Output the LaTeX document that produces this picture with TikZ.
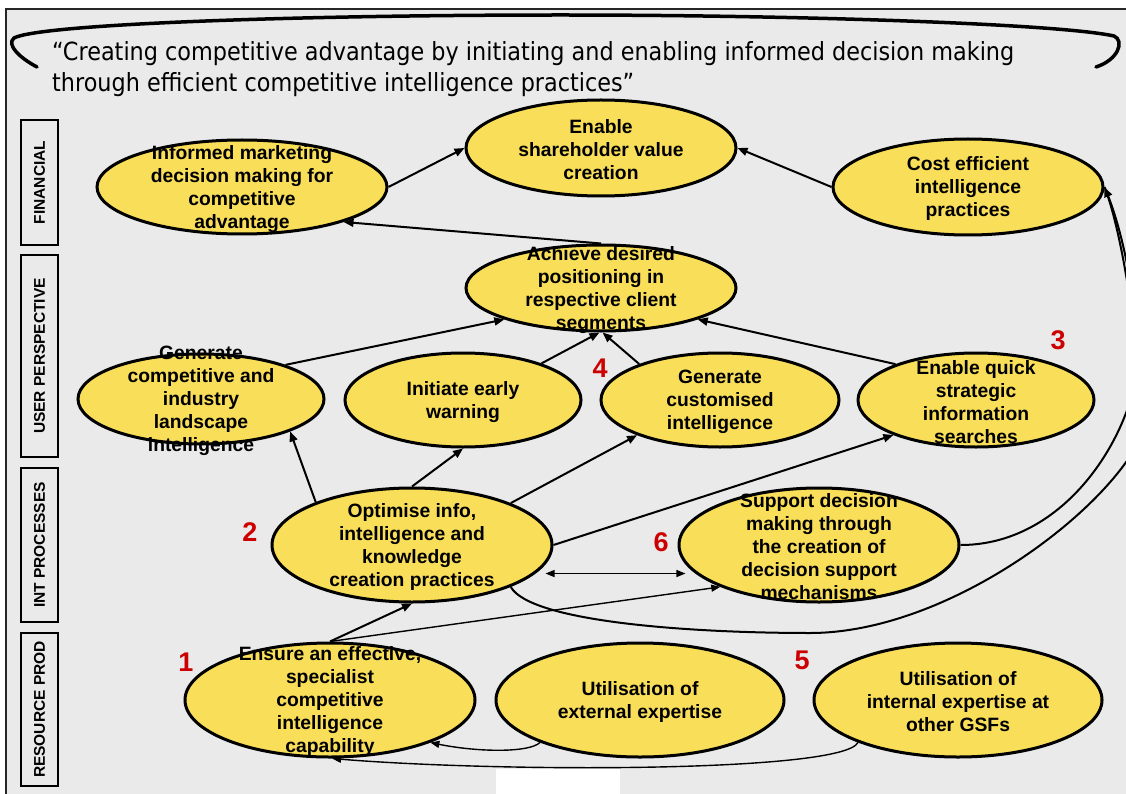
\documentclass[tikz,border=0pt]{standalone}
\usepackage{graphicx}
\usepackage{fontspec}
\setmainfont{Liberation Sans}
\newfontfamily\quotefont{DejaVu Sans}
\usetikzlibrary{arrows.meta,shapes.geometric}
\definecolor{panelgray}{RGB}{234,234,234}
\definecolor{ovalyellow}{RGB}{249,222,89}
\definecolor{numred}{RGB}{204,0,0}
\begin{document}
\begin{tikzpicture}[x=1pt,y=-1pt,
  oval/.style={ellipse,draw,line width=3pt,fill=ovalyellow,inner sep=0pt},
  ovaltext/.style={align=center,inner sep=0pt,yshift=-2pt,font=\bfseries\fontsize{19.3}{23}\selectfont},
  sidebox/.style={draw,line width=2pt,rotate=90,minimum height=37pt,inner sep=0pt,font=\bfseries\fontsize{15.5}{18}\selectfont},
  num/.style={text=numred,inner sep=0pt,font=\bfseries\fontsize{27}{30}\selectfont},
  link/.style={line width=2pt,-{Triangle[length=10pt,width=8pt]}},
  thinlink/.style={line width=1.4pt,-{Triangle[length=9pt,width=7pt]}}]%
\useasboundingbox (0,0) rectangle (1126,794);%
\clip (0,0) rectangle (1126,794);%
\fill[panelgray] (6,9) rectangle (1126,794);%
\draw[line width=2pt,black!85] (6,794) -- (6,9) -- (1126,9);%
\fill[white] (496,769) rectangle (620,794);%
\draw[line width=3.5pt,line cap=round] (37,67) .. controls (20,58) and (6,45) .. (14,38) .. controls (40,24) and (300,15) .. (561,15) .. controls (800,15) and (1060,24) .. (1114,36) .. controls (1125,41) and (1118,60) .. (1096,67);%
\node[anchor=base west,inner sep=0pt,font=\quotefont\fontsize{25}{30}\selectfont] (title1) at (52,61) {\resizebox{962pt}{\height}{“Creating competitive advantage by initiating and enabling informed decision making}};%
\node[anchor=base west,inner sep=0pt,font=\quotefont\fontsize{25}{30}\selectfont] (title2) at (52,92) {\resizebox{582pt}{\height}{through efficient competitive intelligence practices”}};%
\node[sidebox,minimum width=125pt] (finbox) at (39.5,182.5) {FINANCIAL};%
\node[sidebox,minimum width=202pt] (userbox) at (39.5,356) {USER PERSPECTIVE};%
\node[sidebox,minimum width=154pt] (intbox) at (39.5,545) {INT PROCESSES};%
\node[sidebox,minimum width=153pt] (resbox) at (39.5,709.5) {RESOURCE PROD};%
\node[oval,minimum width=290pt,minimum height=94pt] (inform) at (242,187) {};%
\node[oval,minimum width=270pt,minimum height=96pt] (share) at (601,148) {};%
\node[oval,minimum width=270pt,minimum height=96pt] (cost) at (968,187) {};%
\node[oval,minimum width=270pt,minimum height=86pt] (achieve) at (601,288) {};%
\node[oval,minimum width=246pt,minimum height=90pt] (genland) at (201,399) {};%
\node[oval,minimum width=236pt,minimum height=94pt] (warn) at (463,400) {};%
\node[oval,minimum width=238pt,minimum height=94pt] (custom) at (720,400) {};%
\node[oval,minimum width=236pt,minimum height=94pt] (quick) at (976,400) {};%
\node[oval,minimum width=280pt,minimum height=114pt] (optim) at (412,545) {};%
\node[oval,minimum width=280pt,minimum height=114pt] (support) at (819,545) {};%
\node[oval,minimum width=290pt,minimum height=114pt] (ensure) at (330,700) {};%
\node[oval,minimum width=288pt,minimum height=114pt] (external) at (640,700) {};%
\node[oval,minimum width=288pt,minimum height=114pt] (internal) at (958,700) {};%
\coordinate (loopA) at (1132,395);%
\coordinate (loopB) at (810,633);%
\coordinate (loopC) at (1134,450);%
\draw[link] (inform.east) -- (share.west);%
\draw[link] (cost.west) -- (share.east);%
\draw[link] (achieve.north) -- (inform.-19);%
\draw[link] (genland.22) -- (achieve.198);%
\draw[link] (warn.25) -- (achieve.-92);%
\draw[link] (custom.156) -- (achieve.-88);%
\draw[link] (quick.156) -- (achieve.-18);%
\draw[link] (optim.156) -- (genland.-20);%
\draw[link] (optim.north) -- (warn.south);%
\draw[link] (optim.23) -- (custom.203);%
\draw[link] (optim.east) -- (quick.203);%
\draw[line width=1.4pt,{Triangle[length=9pt,width=7pt]}-{Triangle[length=9pt,width=7pt]},shorten <=10pt,shorten >=10pt] (optim.-13) -- (support.193);%
\draw[link] (ensure.north) -- (optim.south);%
\draw[thinlink] (ensure.north) -- (support.203);%
\draw[link] (support.east) .. controls +(90,0) and +(-20,70) .. (loopA) .. controls +(12,-75) and +(18,45) .. (cost.east);%
\draw[line width=2pt] (optim.-23) .. controls +(20,35) and +(-120,0) .. (loopB) .. controls +(130,0) and +(-45,75) .. (loopC) .. controls +(13,-75) and +(18,45) .. (cost.east);%
\draw[thinlink] (external.203) .. controls +(-10,10) and +(50,10) .. (ensure.-23);%
\draw[thinlink] (internal.203) .. controls +(-15,30) and +(170,14) .. (ensure.-88);%
\node[ovaltext] (informtxt) at (inform) {Informed marketing\\decision making for\\competitive\\advantage};%
\node[ovaltext] (sharetxt) at (share) {Enable\\shareholder value\\creation};%
\node[ovaltext] (costtxt) at (cost) {Cost efficient\\intelligence\\practices};%
\node[ovaltext] (achievetxt) at (achieve) {Achieve desired\\positioning in\\respective client\\segments};%
\node[ovaltext] (genlandtxt) at (genland) {Generate\\competitive and\\industry\\landscape\\intelligence};%
\node[ovaltext] (warntxt) at (warn) {Initiate early\\warning};%
\node[ovaltext] (customtxt) at (custom) {Generate\\customised\\intelligence};%
\node[ovaltext] (quicktxt) at (quick) {Enable quick\\strategic\\information\\searches};%
\node[ovaltext] (optimtxt) at (optim) {Optimise info,\\intelligence and\\knowledge\\creation practices};%
\node[ovaltext] (supporttxt) at (support) {Support decision\\making through\\the creation of\\decision support\\mechanisms};%
\node[ovaltext] (ensuretxt) at (ensure) {Ensure an effective,\\specialist\\competitive\\intelligence\\capability};%
\node[ovaltext] (externaltxt) at (external) {Utilisation of\\external expertise};%
\node[ovaltext] (internaltxt) at (internal) {Utilisation of\\internal expertise at\\other GSFs};%
\node[num] (num1) at (186,662) {1};%
\node[num] (num2) at (250,532) {2};%
\node[num] (num3) at (1058,340) {3};%
\node[num] (num4) at (600,368) {4};%
\node[num] (num5) at (802,660) {5};%
\node[num] (num6) at (661,542) {6};%
\end{tikzpicture}
\end{document}
